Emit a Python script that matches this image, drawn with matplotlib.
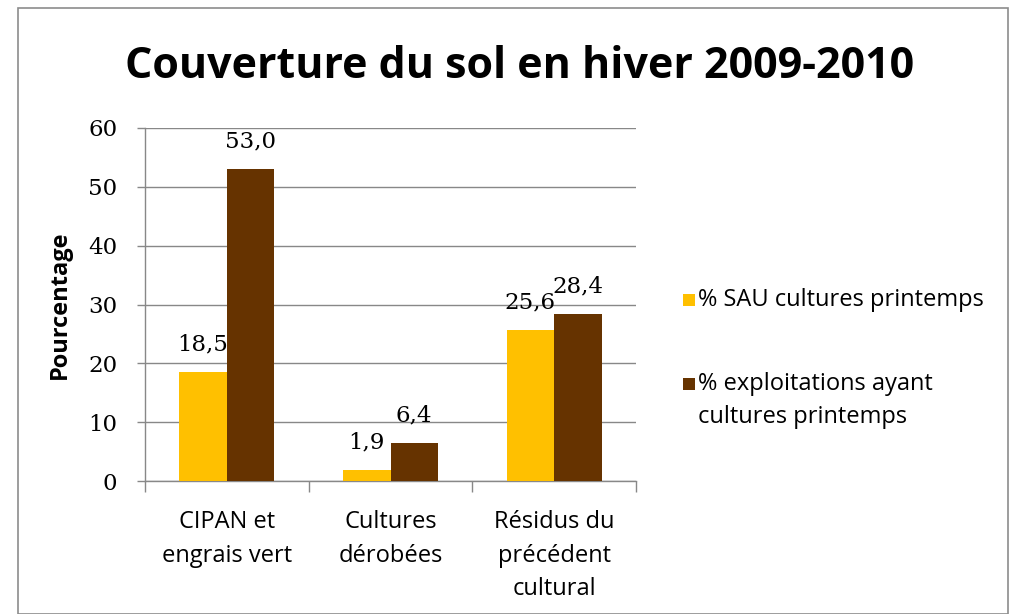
import matplotlib
matplotlib.use("Agg")
import matplotlib.pyplot as plt
from matplotlib.patches import Rectangle
import numpy as np

categories = ["CIPAN et\nengrais vert", "Cultures\ndérobées", "Résidus du\nprécédent\ncultural"]
series_names = ["% SAU cultures printemps", "% exploitations ayant\ncultures printemps"]
sau = [18.5, 1.9, 25.6]
exploit = [53.0, 6.4, 28.4]
colors = ["#FFC000", "#663300"]
yticks = [0, 10, 20, 30, 40, 50, 60]

W, H = 1014, 614
fig = plt.figure(figsize=(W / 100, H / 100), dpi=100)
fig.patch.set_facecolor("white")

# outer frame
fig.patches.append(Rectangle((18 / W, 0.0), (1008 - 18) / W, 1 - 8 / H,
                             transform=fig.transFigure, fill=False,
                             edgecolor="#8c8c8c", linewidth=1.2))

ax = fig.add_axes([145 / W, 1 - 481 / H, (636 - 145) / W, (481 - 128) / H])
x = np.arange(len(categories))
bw = 0.29
b1 = ax.bar(x - bw / 2, sau, bw, color=colors[0], label=series_names[0], zorder=3)
b2 = ax.bar(x + bw / 2, exploit, bw, color=colors[1], label=series_names[1], zorder=3)

serif = "DejaVu Serif"
sans = "Open Sans"

for bars, vals in ((b1, sau), (b2, exploit)):
    for r, v in zip(bars, vals):
        ax.annotate(f"{v:.1f}".replace(".", ","),
                    (r.get_x() + r.get_width() / 2, v),
                    xytext=(0, 12), textcoords="offset points",
                    ha="center", va="bottom", fontsize=16.5, family=serif,
                    color="black", zorder=4)

ax.set_xlim(-0.5, 2.5)
ax.set_ylim(0, 60)
ax.set_yticks(yticks)
ax.set_yticklabels([str(t) for t in yticks], fontsize=16.5, family=serif)
ax.yaxis.grid(True, color="#888888", linewidth=1.0, zorder=0)
ax.set_axisbelow(True)

ax.set_xticks([-0.5, 0.5, 1.5, 2.5])
ax.set_xticklabels([])
ax.tick_params(axis="x", length=8, color="#888888", width=1)
ax.tick_params(axis="y", length=6, color="#888888", width=1, pad=14)
for i, c in enumerate(categories):
    ax.text(i, -5.0, c, ha="center", va="top", fontsize=17, family=sans,
            linespacing=1.52)

for s in ("top", "right"):
    ax.spines[s].set_visible(False)
for s in ("left", "bottom"):
    ax.spines[s].set_color("#888888")
    ax.spines[s].set_linewidth(1.0)

ax.set_ylabel("Pourcentage", fontsize=17, fontweight="bold", family=sans, labelpad=12)

fig.text(520 / W, 1 - 66 / H, "Couverture du sol en hiver 2009-2010",
         ha="center", va="center", fontsize=31, fontweight="bold", family=sans)

# legend (marker aligned with the first line of each entry)
legend_rows_px = [300, 384]
for name, col, yc in zip(series_names, colors, legend_rows_px):
    fig.patches.append(Rectangle((683 / W, 1 - (yc + 6) / H), 12 / W, 12 / H,
                                 transform=fig.transFigure, facecolor=col,
                                 edgecolor="none"))
    fig.text(698 / W, 1 - (yc - 12) / H, name, ha="left", va="top",
             fontsize=17, family=sans, linespacing=1.5)

fig.savefig("out.png", dpi=100, facecolor="white")
